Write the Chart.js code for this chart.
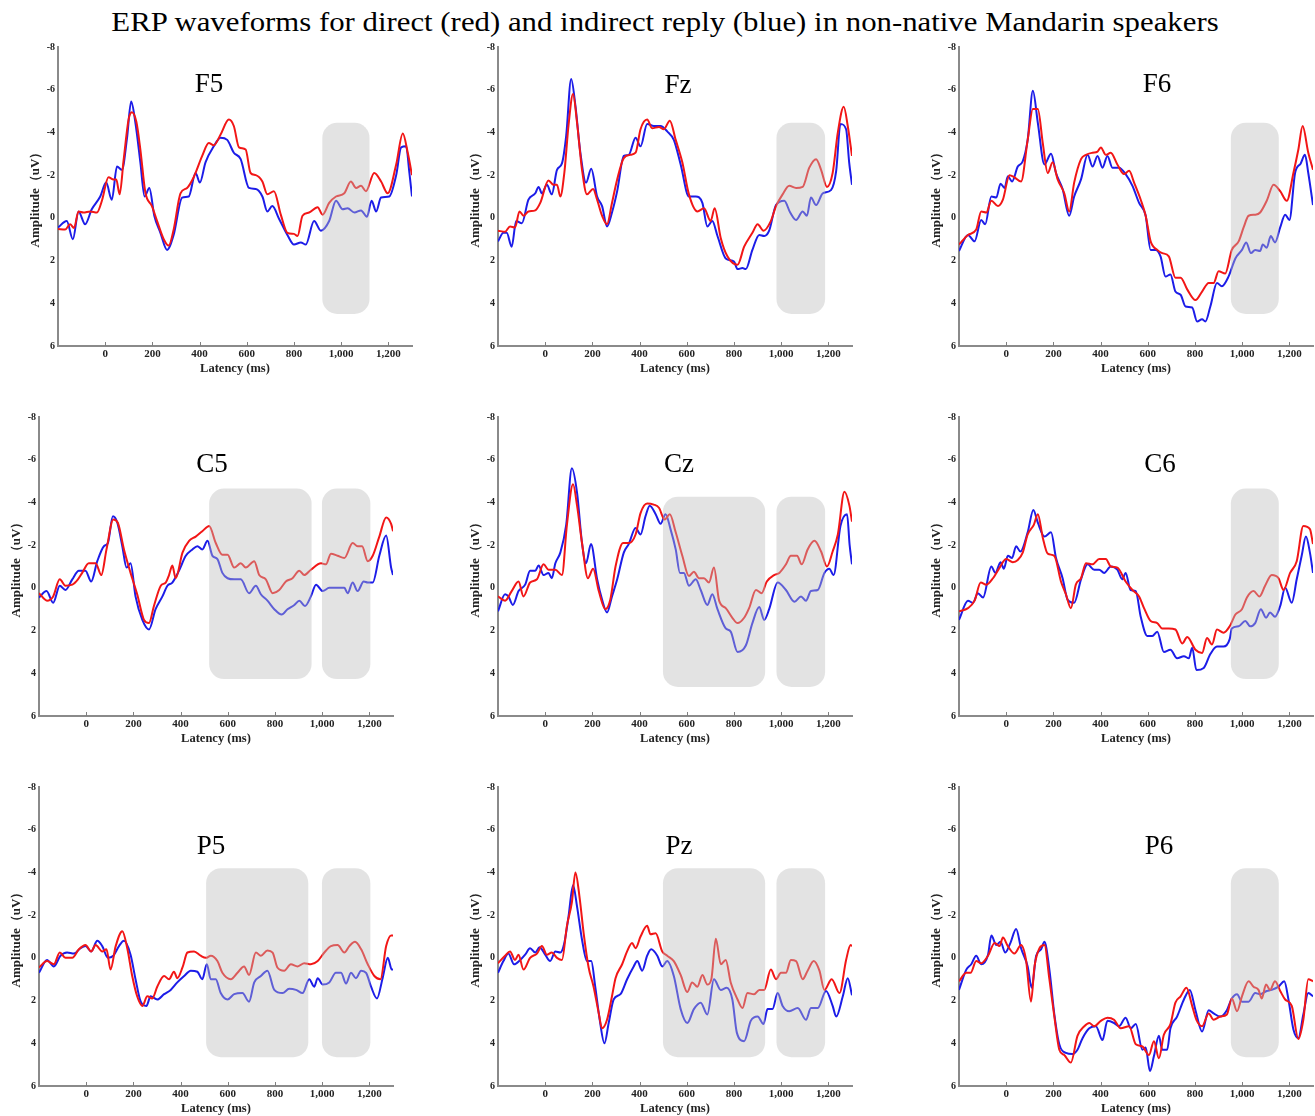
<!DOCTYPE html>
<html>
<head>
<meta charset="utf-8">
<script src="https://cdn.jsdelivr.net/npm/chart.js@4.4.0/dist/chart.umd.min.js"></script>
<style>
    body { margin: 0; background: #fff; width: 1315px; height: 1116px; position: relative; overflow: hidden; font-family: "Liberation Serif", "Times New Roman", serif; }
    #title { position: absolute; left: 0; top: 4px; width: 1330px; text-align: center; font-size: 28px; line-height: 36px; color: #000; transform: scaleX(1.1); transform-origin: 665px 0; }
    canvas { position: absolute; }
    .lbl { position: absolute; font-size: 27px; line-height: 1; color: #000; transform: translate(-50%, -50%); }
</style>
</head>
<body>
<div id="title">ERP waveforms for direct (red) and indirect reply (blue) in non-native Mandarin speakers</div>
<script>
const xTicks = [0, 200, 400, 600, 800, 1000, 1200];
const yTicks = [-8, -6, -4, -2, 0, 2, 4, 6];

// [latency ms, amplitude uV]
const f5Direct = [[-200,0.52],[-170,0.55],[-149,0.3],[-132,0.47],[-113,-0.3],[-92,-0.25],[-64,-0.3],[-35,-0.25],[-14,-0.8],[14,-1.9],[35,-1.8],[47,-1.8],[61,-1.1],[78,-2.7],[99,-4.6],[113,-4.95],[132,-4.5],[149,-3.2],[170,-1.2],[198,-0.55],[220,0.15],[248,1.0],[269,1.3],[290,0.55],[319,-1.15],[347,-1.4],[375,-1.9],[411,-2.9],[439,-3.5],[460,-3.4],[489,-3.9],[524,-4.6],[545,-4.3],[567,-3.3],[595,-3.2],[616,-2.1],[638,-2.0],[666,-1.7],[687,-1.1],[715,-1.25],[744,-0.15],[772,0.7],[800,0.75],[815,0.85],[836,-0.1],[864,-0.25],[900,-0.5],[921,-0.15],[949,-0.7],[978,-1.0],[1013,-1.15],[1041,-1.7],[1063,-1.4],[1084,-1.5],[1105,-1.25],[1140,-2.1],[1169,-1.7],[1197,-1.15],[1233,-2.5],[1261,-3.95],[1282,-3.05],[1300,-2.0]];
const f5Indirect = [[-200,0.45],[-163,0.15],[-137,1.0],[-113,-0.3],[-85,0.3],[-57,-0.4],[-21,-1.0],[4,-1.65],[28,-0.85],[50,-2.4],[71,-2.25],[92,-3.7],[110,-5.45],[128,-4.45],[149,-2.6],[167,-1.0],[187,-1.4],[208,-0.1],[234,0.7],[262,1.5],[290,0.8],[326,-0.95],[354,-1.0],[383,-2.1],[401,-1.65],[425,-2.6],[460,-3.35],[489,-3.75],[517,-3.65],[545,-3.05],[574,-2.75],[609,-1.4],[638,-1.35],[666,-1.0],[687,-0.3],[708,-0.55],[737,0.05],[772,0.8],[800,1.25],[829,1.15],[850,1.25],[885,0.15],[914,0.6],[949,0.15],[978,-0.8],[1006,-0.4],[1027,-0.45],[1056,-0.25],[1084,-0.35],[1109,-0.05],[1129,-0.8],[1148,-0.3],[1169,-0.95],[1204,-1.0],[1233,-2.0],[1254,-3.3],[1275,-3.35],[1289,-2.1],[1300,-1.0]];
const fzDirect = [[-200,0.6],[-170,0.65],[-149,0.4],[-128,0.45],[-109,-0.3],[-92,-0.1],[-71,-0.3],[-42,-0.35],[-21,-0.7],[14,-1.75],[35,-1.55],[50,-1.55],[64,-1.0],[81,-2.1],[99,-4.35],[118,-5.8],[135,-4.45],[156,-2.25],[177,-1.1],[203,-1.35],[220,-0.85],[241,-0.1],[262,0.3],[283,-0.7],[305,-1.8],[333,-2.8],[361,-2.95],[383,-3.05],[404,-4.15],[432,-4.6],[453,-4.2],[482,-4.25],[503,-4.15],[528,-4.55],[553,-3.65],[581,-2.6],[609,-1.1],[645,-0.3],[673,-0.45],[701,0.15],[718,-0.45],[744,0.95],[772,1.8],[815,2.2],[843,1.35],[878,0.7],[900,0.3],[925,0.6],[956,0.15],[978,-0.55],[1006,-1.1],[1034,-1.5],[1063,-1.4],[1091,-1.45],[1119,-2.35],[1148,-2.75],[1169,-2.25],[1194,-1.45],[1218,-2.1],[1240,-4.0],[1265,-5.2],[1282,-4.3],[1300,-2.9]];
const fzIndirect = [[-200,1.1],[-177,0.7],[-163,0.7],[-142,1.35],[-123,0.15],[-99,0.25],[-71,-0.85],[-42,-1.15],[-28,-1.45],[-14,-1.15],[7,-1.55],[28,-1.1],[50,-2.25],[71,-2.55],[89,-3.85],[110,-6.5],[128,-5.25],[149,-3.05],[173,-1.65],[195,-2.3],[220,-1.0],[241,-0.55],[262,0.4],[283,-0.25],[305,-1.25],[333,-2.9],[354,-2.95],[383,-3.75],[404,-3.35],[432,-4.4],[460,-4.3],[489,-4.3],[517,-4.05],[545,-3.65],[574,-2.5],[609,-1.0],[638,-1.0],[666,-0.7],[687,0.4],[708,0.15],[730,0.85],[765,1.9],[800,2.05],[815,2.4],[836,2.35],[850,2.4],[878,1.5],[907,0.8],[928,0.85],[949,0.6],[978,-0.6],[1013,-0.8],[1038,-0.25],[1063,0.1],[1091,-0.3],[1109,-0.1],[1126,-0.95],[1148,-0.6],[1176,-1.15],[1211,-1.3],[1233,-2.2],[1251,-4.4],[1275,-4.15],[1288,-2.6],[1300,-1.55]];
const f6Direct = [[-200,1.25],[-162,0.8],[-127,0.55],[-106,-0.3],[-84,-0.25],[-63,-0.8],[-35,-0.55],[-14,-0.85],[14,-2.0],[35,-1.9],[63,-1.7],[91,-3.65],[113,-5.1],[134,-5.1],[155,-3.5],[176,-2.1],[197,-2.6],[218,-1.8],[246,-1.15],[267,-0.3],[288,-1.65],[317,-2.75],[338,-2.95],[366,-3.05],[387,-3.1],[401,-3.3],[422,-2.95],[443,-3.05],[471,-2.5],[499,-2.05],[521,-2.2],[542,-1.65],[570,-0.85],[591,-0.1],[612,1.1],[640,1.5],[661,1.65],[689,1.8],[717,2.8],[739,2.8],[767,3.35],[802,3.85],[830,3.45],[858,3.05],[879,3.05],[900,2.5],[928,2.6],[956,1.5],[985,1.1],[1006,0.45],[1027,-0.1],[1055,-0.15],[1076,-0.25],[1104,-0.8],[1133,-1.55],[1161,-1.25],[1189,-0.8],[1217,-2.1],[1238,-3.2],[1256,-4.3],[1280,-3.05],[1300,-2.25]];
const f6Indirect = [[-200,1.55],[-162,0.8],[-134,1.1],[-106,0.1],[-89,0.3],[-63,-1.0],[-42,-0.95],[-24,-1.6],[-7,-1.4],[7,-1.95],[25,-1.7],[49,-2.4],[70,-2.65],[91,-3.65],[113,-5.95],[134,-4.45],[162,-2.5],[190,-3.0],[211,-2.1],[239,-1.35],[267,-0.1],[288,-1.0],[317,-1.8],[345,-2.95],[366,-2.4],[387,-2.9],[408,-2.35],[429,-2.9],[450,-2.35],[478,-2.35],[506,-2.05],[535,-1.5],[563,-0.7],[591,-0.1],[612,1.5],[633,1.5],[654,1.8],[675,2.75],[696,2.65],[717,3.45],[739,3.6],[760,4.15],[788,4.2],[809,4.85],[830,4.75],[844,4.85],[865,4.15],[893,3.05],[914,3.2],[942,2.75],[971,1.9],[999,1.5],[1017,1.15],[1037,1.65],[1055,1.5],[1076,1.55],[1087,1.25],[1104,1.4],[1121,0.85],[1139,1.15],[1161,0.45],[1182,-0.15],[1200,0.1],[1224,-2.1],[1248,-2.55],[1266,-2.95],[1280,-2.1],[1300,-0.6]];
const c5Direct = [[-200,0.25],[-166,0.6],[-140,0.4],[-112,-0.4],[-88,-0.1],[-59,-0.15],[-35,-0.4],[-17,-0.7],[11,-1.15],[40,-1.15],[64,-0.6],[86,-1.8],[115,-3.2],[134,-3.05],[160,-1.8],[188,-0.7],[216,0.3],[245,1.5],[266,1.65],[287,0.85],[316,-0.1],[337,-0.25],[351,-0.6],[365,-1.05],[379,-0.45],[408,-1.65],[436,-2.2],[464,-2.4],[492,-2.65],[521,-2.9],[549,-2.1],[577,-1.55],[599,-1.55],[627,-0.95],[655,-1.15],[676,-0.95],[712,-1.25],[733,-0.6],[761,-0.4],[790,0.25],[818,0.1],[846,-0.3],[874,-0.45],[903,-0.8],[924,-0.6],[952,-0.85],[995,-1.15],[1016,-1.1],[1037,-1.6],[1065,-1.5],[1094,-1.4],[1129,-2.1],[1150,-1.95],[1169,-1.95],[1193,-1.25],[1214,-1.5],[1242,-2.4],[1271,-3.3],[1292,-3.0],[1300,-2.65]];
const c5Indirect = [[-200,0.45],[-168,0.15],[-140,0.7],[-112,-0.1],[-88,0.1],[-59,-0.4],[-31,-0.8],[-3,-0.8],[21,-0.3],[47,-1.25],[75,-1.95],[92,-2.1],[113,-3.35],[132,-3.05],[153,-1.95],[171,-0.95],[188,-1.15],[209,0.4],[238,1.5],[266,1.95],[294,1.0],[323,0.4],[344,-0.1],[365,-0.25],[393,-0.8],[422,-1.5],[450,-1.8],[471,-1.95],[492,-1.8],[514,-2.2],[535,-1.5],[556,-1.35],[577,-0.7],[599,-0.45],[627,-0.4],[655,-0.4],[690,0.25],[719,-0.1],[740,0.3],[768,0.6],[797,1.0],[828,1.25],[853,1.0],[882,0.8],[903,0.6],[927,0.85],[952,0.4],[974,-0.15],[1002,0.15],[1030,0.0],[1065,0.0],[1094,0.0],[1108,0.25],[1129,-0.25],[1150,0.15],[1176,-0.3],[1193,-0.25],[1214,-0.25],[1242,-1.5],[1271,-2.45],[1292,-0.95],[1300,-0.6]];
const czDirect = [[-200,0.4],[-170,0.6],[-142,0.15],[-113,-0.3],[-92,0.4],[-64,-0.25],[-35,-0.4],[-7,-1.1],[14,-0.85],[43,-0.85],[71,-0.6],[92,-2.95],[118,-4.85],[135,-3.85],[156,-2.1],[181,-0.45],[203,-0.9],[227,0.15],[255,1.0],[276,0.55],[298,-1.0],[330,-2.1],[354,-2.1],[383,-2.5],[404,-3.5],[432,-3.95],[460,-3.9],[482,-3.75],[506,-3.2],[528,-3.45],[553,-2.6],[581,-1.5],[609,-0.55],[630,-0.75],[652,-0.45],[673,-0.45],[694,-0.25],[715,-0.95],[737,0.6],[765,0.95],[793,1.4],[815,1.65],[843,1.4],[864,0.95],[893,0.1],[917,0.25],[939,-0.3],[970,-0.6],[992,-0.7],[1020,-1.1],[1041,-1.5],[1067,-1.5],[1087,-1.1],[1112,-1.8],[1141,-2.2],[1169,-1.7],[1194,-1.0],[1218,-1.7],[1240,-2.5],[1268,-4.5],[1289,-3.85],[1300,-3.1]];
const czIndirect = [[-200,1.1],[-170,0.3],[-156,0.4],[-137,0.8],[-113,0.15],[-85,-0.15],[-64,-0.8],[-42,-0.8],[-28,-1.05],[-7,-0.6],[14,-0.7],[28,-0.45],[43,-1.15],[64,-1.65],[89,-2.95],[113,-5.6],[135,-4.45],[156,-2.1],[173,-1.15],[194,-2.05],[220,-0.4],[241,0.55],[262,1.15],[283,0.4],[305,-0.4],[333,-1.65],[354,-2.05],[383,-2.8],[404,-2.5],[425,-3.35],[443,-3.85],[468,-3.45],[489,-3.0],[510,-3.45],[531,-2.75],[553,-1.8],[571,-0.7],[588,-0.7],[609,-0.1],[638,-0.4],[659,0.1],[687,0.8],[708,0.3],[730,1.0],[765,1.9],[786,2.05],[815,3.0],[850,2.7],[878,1.65],[907,0.9],[928,1.5],[949,1.0],[985,-0.25],[1020,0.1],[1056,0.65],[1084,0.4],[1105,0.6],[1126,0.15],[1155,0.1],[1183,-0.7],[1204,-0.9],[1222,-0.6],[1251,-2.9],[1279,-3.45],[1290,-2.0],[1300,-1.1]];
const c6Direct = [[-200,1.1],[-162,0.95],[-134,0.6],[-108,-0.25],[-84,-0.15],[-56,-0.45],[-28,-0.95],[0,-1.35],[28,-1.2],[49,-1.3],[70,-1.65],[91,-2.5],[117,-2.95],[134,-3.45],[155,-2.35],[176,-1.6],[204,-1.5],[232,-0.3],[253,0.3],[274,0.95],[295,-0.15],[317,-0.45],[338,-1.15],[366,-1.1],[394,-1.35],[422,-1.35],[443,-1.0],[471,-0.95],[506,-0.3],[535,0.1],[563,0.4],[584,0.95],[612,1.55],[640,1.65],[661,1.9],[689,1.9],[717,1.95],[746,2.6],[767,2.3],[802,2.9],[830,3.05],[851,2.35],[872,2.65],[893,1.95],[921,2.1],[947,1.8],[971,1.25],[999,1.0],[1020,0.45],[1048,0.15],[1073,0.4],[1097,-0.1],[1125,-0.6],[1154,-0.45],[1175,0.1],[1203,-0.7],[1231,-1.25],[1259,-2.9],[1287,-2.75],[1300,-2.05]];
const c6Indirect = [[-200,1.5],[-162,0.6],[-141,0.7],[-120,0.25],[-98,0.45],[-63,-1.0],[-46,-0.7],[-24,-1.2],[-10,-0.9],[7,-1.5],[25,-1.4],[42,-1.95],[60,-1.7],[91,-2.6],[115,-3.65],[134,-3.05],[162,-2.4],[190,-2.6],[211,-1.4],[239,-0.45],[260,0.55],[288,0.7],[317,-0.4],[345,-1.1],[373,-0.85],[394,-0.85],[415,-0.7],[443,-1.0],[471,-0.85],[492,-0.4],[506,-0.7],[527,0.1],[549,0.15],[570,1.35],[598,2.25],[619,2.25],[640,2.05],[668,3.0],[696,2.9],[724,3.3],[753,3.2],[774,3.3],[788,2.8],[806,3.85],[837,3.75],[865,3.1],[893,2.75],[921,2.75],[947,2.4],[956,1.9],[985,1.8],[1013,1.55],[1034,1.8],[1055,1.65],[1079,1.0],[1101,1.4],[1118,1.15],[1139,1.35],[1161,0.85],[1182,0.0],[1210,0.7],[1231,-0.4],[1252,-1.5],[1270,-2.4],[1287,-1.65],[1300,-0.7]];
const p5Direct = [[-200,0.45],[-166,0.15],[-137,0.3],[-112,-0.25],[-88,0.0],[-59,0.0],[-31,-0.4],[-3,-0.6],[21,-0.3],[40,-0.6],[68,-0.3],[86,-0.4],[103,0.55],[125,-0.55],[153,-1.25],[174,-0.45],[195,0.85],[216,1.8],[238,2.25],[259,1.8],[280,1.9],[301,1.35],[330,0.85],[351,1.0],[372,0.65],[386,0.95],[408,0.45],[429,-0.25],[457,-0.3],[485,-0.1],[507,0.0],[528,-0.1],[556,0.15],[577,0.7],[613,1.0],[641,0.7],[669,0.4],[690,0.8],[719,-0.25],[740,-0.1],[768,-0.35],[790,-0.25],[810,0.45],[839,0.6],[867,0.3],[896,0.4],[924,0.25],[952,0.3],[981,0.15],[1009,-0.25],[1037,-0.55],[1065,-0.6],[1094,-0.25],[1115,-0.55],[1139,-0.75],[1165,-0.4],[1193,0.3],[1221,0.85],[1247,1.0],[1271,-0.55],[1292,-1.05],[1300,-1.05]];
const p5Indirect = [[-200,0.7],[-166,0.1],[-137,0.4],[-109,-0.1],[-81,-0.25],[-52,-0.2],[-24,-0.45],[-3,-0.55],[21,-0.3],[47,-0.8],[68,-0.55],[92,0.0],[115,-0.1],[139,-0.55],[160,-0.8],[188,-0.15],[209,1.0],[231,2.05],[255,2.25],[273,1.8],[301,1.95],[330,1.7],[358,1.5],[386,1.15],[415,0.85],[443,0.6],[471,0.65],[492,1.0],[511,0.3],[528,1.0],[549,1.0],[570,1.65],[599,1.95],[627,1.7],[662,1.65],[690,2.05],[712,1.15],[740,0.85],[768,0.6],[797,1.5],[832,1.65],[860,1.45],[889,1.5],[917,1.65],[945,1.0],[966,1.35],[981,0.95],[1002,1.25],[1030,1.15],[1058,0.7],[1080,0.7],[1101,1.2],[1122,0.7],[1143,0.95],[1165,0.6],[1186,0.7],[1207,1.35],[1232,1.9],[1256,0.95],[1278,0.0],[1295,0.55],[1300,0.55]];
const pzDirect = [[-200,0.25],[-170,-0.1],[-149,-0.3],[-128,0.1],[-113,-0.15],[-92,0.55],[-64,0.0],[-35,-0.2],[-14,-0.55],[7,-0.15],[28,-0.25],[50,0.0],[71,0.1],[92,-1.5],[113,-2.6],[128,-4.0],[146,-2.8],[163,-1.15],[184,0.45],[205,1.35],[227,2.6],[241,3.3],[262,2.9],[283,1.8],[298,0.95],[326,0.3],[347,-0.3],[368,-0.7],[383,-0.45],[404,-1.0],[432,-1.5],[446,-1.1],[468,-1.15],[496,-0.3],[517,-0.1],[545,0.15],[574,0.8],[602,1.6],[623,1.15],[645,1.35],[666,0.8],[687,1.25],[704,1.0],[723,-0.9],[744,0.3],[765,0.1],[786,1.15],[815,1.95],[836,2.35],[857,1.65],[885,1.7],[907,1.5],[928,1.5],[956,0.55],[978,1.0],[999,0.7],[1020,0.7],[1041,0.1],[1063,0.15],[1091,1.0],[1112,0.6],[1138,0.15],[1162,0.6],[1183,1.5],[1214,1.0],[1247,1.65],[1275,0.1],[1294,-0.6],[1300,-0.55]];
const pzIndirect = [[-200,0.7],[-177,0.15],[-156,-0.2],[-132,0.3],[-106,0.1],[-85,-0.15],[-64,-0.45],[-42,-0.25],[-24,-0.5],[0,-0.15],[21,0.15],[43,-0.3],[64,-0.25],[81,-0.7],[99,-1.95],[118,-3.4],[135,-2.4],[156,-0.85],[177,0.15],[195,0.15],[212,1.35],[231,2.9],[251,4.0],[269,3.05],[290,1.95],[319,1.7],[347,1.0],[375,0.4],[390,0.15],[411,0.6],[432,-0.1],[449,-0.4],[475,-0.1],[496,0.4],[517,0.15],[545,0.85],[574,2.4],[602,3.05],[630,2.4],[659,2.1],[687,2.65],[715,1.0],[744,1.5],[769,1.4],[793,1.95],[812,3.5],[843,3.9],[871,2.95],[900,2.75],[925,3.1],[942,2.4],[963,2.4],[985,1.65],[1006,2.25],[1034,2.5],[1070,2.35],[1105,2.9],[1126,2.35],[1155,2.35],[1190,1.55],[1218,2.25],[1233,2.75],[1261,1.8],[1282,0.95],[1300,1.75]];
const p6Direct = [[-200,1.1],[-169,0.7],[-151,0.7],[-127,0.15],[-106,0.25],[-77,-0.1],[-49,-0.7],[-28,-0.55],[-14,-0.95],[7,-0.55],[35,-0.2],[63,-0.6],[84,0.1],[105,2.05],[120,0.4],[141,-0.45],[162,-0.6],[183,1.0],[204,2.75],[225,4.3],[246,4.55],[274,4.9],[302,3.65],[331,3.2],[352,3.05],[373,3.2],[401,2.95],[429,2.8],[457,2.9],[485,3.3],[521,3.2],[549,4.05],[577,4.15],[605,4.55],[626,3.9],[647,4.7],[668,3.6],[696,3.1],[717,2.1],[739,1.8],[764,1.4],[788,2.25],[806,2.9],[830,3.2],[858,2.6],[879,2.9],[907,2.75],[935,2.65],[956,1.9],[978,2.5],[999,1.8],[1027,1.1],[1048,1.35],[1069,1.5],[1083,1.9],[1101,1.25],[1118,1.5],[1139,1.1],[1161,1.55],[1182,1.95],[1210,2.25],[1238,3.8],[1259,2.9],[1280,1.0],[1300,1.1]];
const p6Indirect = [[-200,1.5],[-169,0.55],[-148,0.3],[-127,-0.1],[-106,0.3],[-77,-0.15],[-63,-1.05],[-42,-0.6],[-24,-0.75],[-4,-0.25],[18,-0.7],[42,-1.35],[63,-0.45],[91,0.4],[108,1.4],[127,-0.1],[148,-0.4],[162,-0.75],[183,0.55],[204,2.65],[225,4.05],[253,4.45],[281,4.5],[302,4.3],[324,3.75],[352,3.3],[380,3.2],[408,3.85],[429,2.95],[457,3.05],[478,3.2],[506,2.8],[528,3.3],[549,3.1],[577,4.3],[591,4.2],[609,5.3],[626,4.6],[647,3.65],[661,4.3],[682,4.3],[696,3.3],[724,2.75],[753,1.95],[778,1.5],[802,2.45],[830,3.45],[858,2.45],[879,2.6],[907,2.75],[935,2.45],[956,1.9],[978,1.7],[999,2.05],[1027,2.05],[1055,1.65],[1076,1.7],[1104,1.55],[1125,1.5],[1154,1.35],[1178,1.1],[1196,1.95],[1217,3.35],[1238,3.75],[1259,2.65],[1280,1.65],[1300,1.8]];

// shaded analysis windows (ms)
const f5Windows = [[920, 1120]];
const fzWindows = [[980, 1186]];
const f6Windows = [[952, 1155]];
const c5Windows = [[521, 955], [999, 1204]];
const czWindows = [[499, 932], [980, 1186]];
const c6Windows = [[952, 1155]];
const p5Windows = [[508, 941], [999, 1204]];
const pzWindows = [[499, 932], [980, 1186]];
const p6Windows = [[952, 1155]];

const panels = [
    { name: 'F5', direct: f5Direct, indirect: f5Indirect, windows: f5Windows, band: [-4.45, 4.5], left: 58, top: 47, lx: 209, ly: 83 },
    { name: 'Fz', direct: fzDirect, indirect: fzIndirect, windows: fzWindows, band: [-4.45, 4.5], left: 498, top: 47, lx: 678, ly: 84 },
    { name: 'F6', direct: f6Direct, indirect: f6Indirect, windows: f6Windows, band: [-4.45, 4.5], left: 959, top: 47, lx: 1157, ly: 83 },
    { name: 'C5', direct: c5Direct, indirect: c5Indirect, windows: c5Windows, band: [-4.65, 4.27], left: 39, top: 417, lx: 212, ly: 463 },
    { name: 'Cz', direct: czDirect, indirect: czIndirect, windows: czWindows, band: [-4.27, 4.64], left: 498, top: 417, lx: 679, ly: 463 },
    { name: 'C6', direct: c6Direct, indirect: c6Indirect, windows: c6Windows, band: [-4.65, 4.27], left: 959, top: 417, lx: 1160, ly: 463 },
    { name: 'P5', direct: p5Direct, indirect: p5Indirect, windows: p5Windows, band: [-4.2, 4.65], left: 39, top: 787, lx: 211, ly: 845 },
    { name: 'Pz', direct: pzDirect, indirect: pzIndirect, windows: pzWindows, band: [-4.2, 4.65], left: 498, top: 787, lx: 679, ly: 845 },
    { name: 'P6', direct: p6Direct, indirect: p6Indirect, windows: p6Windows, band: [-4.2, 4.65], left: 959, top: 787, lx: 1159, ly: 845 }
];

const AXIS_W = 30, AXIS_H = 30, PAD_TOP = 12, PAD_RIGHT = 4;
const PLOT_W = 354, PLOT_H = 299;
const serif = 'Liberation Serif';

// grey windows laid over the traces, plus the small inward ticks on the x axis
const shading = {
    id: 'shading',
    afterDatasetsDraw(chart, args, opts) {
        const ctx = chart.ctx;
        const x = chart.scales.x, y = chart.scales.y;
        ctx.save();
        ctx.fillStyle = 'rgba(188,188,188,0.42)';
        opts.windows.forEach(function (w) {
            const l = x.getPixelForValue(w[0]);
            const r = x.getPixelForValue(w[1]);
            const t = y.getPixelForValue(opts.band[0]);
            const b = y.getPixelForValue(opts.band[1]);
            ctx.beginPath();
            ctx.roundRect(l, t, r - l, b - t, 15);
            ctx.fill();
        });
        ctx.strokeStyle = '#808080';
        ctx.lineWidth = 1;
        xTicks.forEach(function (v) {
            const px = Math.round(x.getPixelForValue(v)) + 0.5;
            ctx.beginPath();
            ctx.moveTo(px, y.bottom);
            ctx.lineTo(px, y.bottom - 4);
            ctx.stroke();
        });
        ctx.restore();
    }
};

panels.forEach(function (p) {
    const canvas = document.createElement('canvas');
    canvas.width = AXIS_W + PLOT_W + PAD_RIGHT;
    canvas.height = PAD_TOP + PLOT_H + AXIS_H;
    canvas.style.left = (p.left - AXIS_W) + 'px';
    canvas.style.top = (p.top - PAD_TOP) + 'px';
    document.body.appendChild(canvas);

    const lbl = document.createElement('div');
    lbl.className = 'lbl';
    lbl.textContent = p.name;
    lbl.style.left = p.lx + 'px';
    lbl.style.top = p.ly + 'px';
    document.body.appendChild(lbl);

    new Chart(canvas, {
        type: 'line',
        data: {
            datasets: [{
                label: 'direct',
                data: p.direct,
                borderColor: 'rgb(242,22,22)',
                borderWidth: 2,
                pointRadius: 0,
                cubicInterpolationMode: 'monotone'
            }, {
                label: 'indirect',
                data: p.indirect,
                borderColor: 'rgb(28,28,232)',
                borderWidth: 2,
                pointRadius: 0,
                cubicInterpolationMode: 'monotone'
            }]
        },
        plugins: [shading],
        options: {
            responsive: false,
            animation: false,
            layout: { padding: { top: PAD_TOP, right: PAD_RIGHT, left: 0, bottom: 0 } },
            plugins: {
                legend: { display: false },
                tooltip: { enabled: false },
                shading: { windows: p.windows, band: p.band }
            },
            scales: {
                x: {
                    type: 'linear',
                    min: -200,
                    max: 1300,
                    afterBuildTicks: function (s) { s.ticks = xTicks.map(v => ({ value: v })); },
                    afterFit: function (s) { s.height = AXIS_H; },
                    grid: { display: false, drawTicks: false },
                    border: { color: '#8a8a8a', width: 2 },
                    ticks: {
                        color: '#222',
                        padding: 2,
                        autoSkip: false,
                        maxRotation: 0,
                        font: { family: serif, size: 11, weight: 'bold' },
                        callback: v => v.toLocaleString('en-US')
                    },
                    title: {
                        display: true,
                        text: 'Latency (ms)',
                        color: '#222',
                        padding: 0,
                        font: { family: serif, size: 12.5, weight: 'bold' }
                    }
                },
                y: {
                    type: 'linear',
                    reverse: true,
                    min: -8,
                    max: 6,
                    afterBuildTicks: function (s) { s.ticks = yTicks.map(v => ({ value: v })); },
                    afterFit: function (s) { s.width = AXIS_W; },
                    grid: { display: false, drawTicks: false },
                    border: { color: '#8a8a8a', width: 2 },
                    ticks: {
                        color: '#222',
                        padding: 3,
                        font: { family: serif, size: 10, weight: 'bold' }
                    },
                    title: {
                        display: true,
                        text: 'Amplitude（uV）',
                        color: '#222',
                        padding: 0,
                        font: { family: serif, size: 13, weight: 'bold' }
                    }
                }
            }
        }
    });
});
</script>
</body>
</html>
